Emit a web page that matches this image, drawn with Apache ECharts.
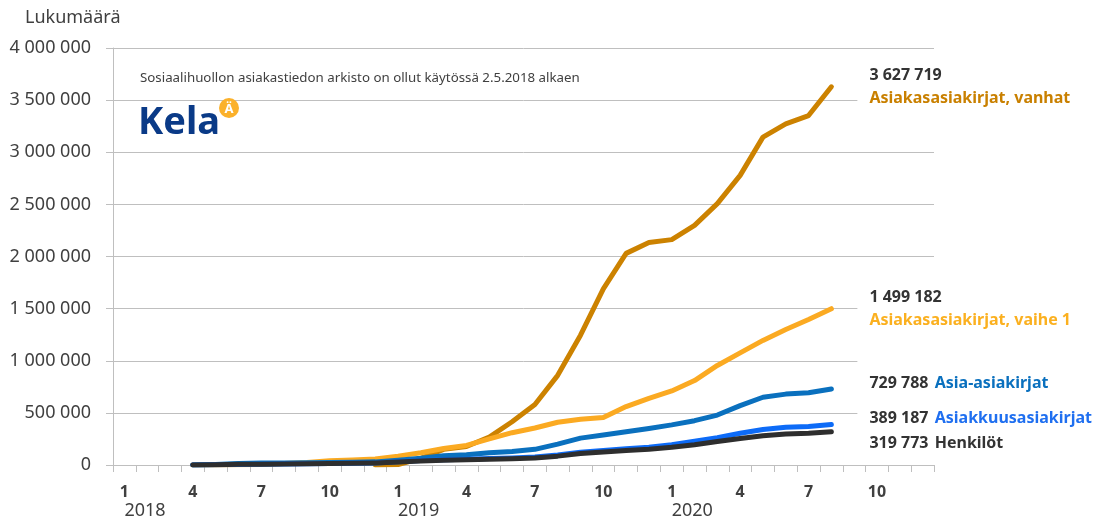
<!DOCTYPE html>
<html><head><meta charset="utf-8">
<script src="https://cdn.jsdelivr.net/npm/echarts@6/dist/echarts.min.js"></script>
<style>html,body{margin:0;padding:0;background:#fff}#c{width:1103px;height:520px}</style>
</head><body><div id="c"></div>
<script>
// ---- data ----
const years = ['2018', '2019', '2020'];
const months = ['1','2','3','4','5','6','7','8','9','10','11','12'];
const startMonth = '2018-4'; // first data month (values below run monthly 2018-04 ... 2020-08)
const yTicks = [0, 500000, 1000000, 1500000, 2000000, 2500000, 3000000, 3500000, 4000000];

const seriesNames = ['Asiakasasiakirjat, vanhat', 'Asiakasasiakirjat, vaihe 1', 'Asia-asiakirjat', 'Asiakkuusasiakirjat', 'Henkilöt'];
const vanhat = [null, null, null, null, null, null, null, null, 0, 5000, 65000, 150000, 178000, 268000, 415000, 580000, 860000, 1245000, 1690000, 2030000, 2135000, 2162000, 2299000, 2507000, 2778000, 3145000, 3273000, 3352000, 3627719];
const vaihe1 = [0, 0, 2000, 5000, 15000, 25000, 40000, 48000, 58000, 85000, 118000, 158000, 188000, 250000, 310000, 355000, 410000, 438000, 455000, 560000, 640000, 710000, 810000, 955000, 1075000, 1195000, 1300000, 1396000, 1499182];
const asia = [0, 5000, 15000, 20000, 20000, 22000, 24000, 26000, 30000, 45000, 64000, 88000, 98000, 118000, 130000, 150000, 200000, 258000, 287000, 318000, 350000, 385000, 425000, 479000, 570000, 650000, 680000, 693000, 729788];
const asiakkuus = [0, 2000, 5000, 8000, 10000, 12000, 14000, 16000, 20000, 32000, 42000, 50000, 56000, 62000, 68000, 76000, 95000, 122000, 138000, 155000, 170000, 195000, 228000, 262000, 305000, 340000, 362000, 370000, 389187];
const henkilot = [0, 3000, 6000, 8000, 10000, 12000, 14000, 16000, 20000, 28000, 38000, 45000, 50000, 55000, 60000, 68000, 85000, 110000, 125000, 140000, 152000, 170000, 195000, 225000, 255000, 280000, 297000, 305000, 319773];

// ---- build ----
const cats = [];
years.forEach(y => months.forEach(m => cats.push(y + '-' + m)));
const start = cats.indexOf(startMonth);
function pad(arr) {
  const out = new Array(cats.length).fill(null);
  arr.forEach((v, i) => { out[start + i] = v; });
  return out;
}
function fmt(v) { return String(Math.round(v)).replace(/\B(?=(\d{3})+(?!\d))/g, ' '); }

const FONT = 'Noto Sans';
const colors = ['#CC8200', '#FBAA22', '#0A70BE', '#0D6BF7', '#2E2E2E'];
const labelColors = ['#C98000', '#FBB01F', '#0A70BE', '#1F6FF0', '#333333'];
const values = [vanhat, vaihe1, asia, asiakkuus, henkilot];
const twoLine = [true, true, false, false, false];
const labelOffsets = [[0, 0], [0, 0], [0, -12], [0, -6], [0, 12]];
const labelPads = [[4, 6, 4, 12], [4, 6, 4, 12], [16, 6, 2, 12], [4, 6, 4, 12], [4, 6, 4, 12]];

const series = values.map((arr, k) => ({
  name: seriesNames[k],
  type: 'line',
  data: pad(arr),
  showSymbol: false,
  symbol: 'none',
  connectNulls: false,
  silent: true,
  z: 2 + k,
  lineStyle: { width: 5, color: colors[k], cap: 'round', join: 'round' },
  itemStyle: { color: colors[k] },
  emphasis: { disabled: true },
  endLabel: {
    show: true,
    distance: 26,
    offset: labelOffsets[k],
    backgroundColor: '#ffffff',
    padding: labelPads[k],
    formatter: p => '{v|' + fmt(p.value) + '}' + (twoLine[k] ? '\n' : '  ') + '{n' + k + '|' + seriesNames[k] + '}',
    rich: Object.assign({
      v: { fontFamily: FONT, fontSize: 16, fontWeight: 'bold', color: '#333333', lineHeight: 23 }
    }, { ['n' + k]: { fontFamily: FONT, fontSize: 16, fontWeight: 'bold', color: labelColors[k], lineHeight: 23 } })
  }
}));

const chart = echarts.init(document.getElementById('c'), null, { renderer: 'canvas' });
chart.setOption({
  animation: false,
  backgroundColor: '#ffffff',
  textStyle: { fontFamily: FONT },
  title: {
    text: 'Lukumäärä', left: 20, top: 4,
    textStyle: { fontFamily: FONT, fontSize: 18, fontWeight: 'normal', color: '#404040' }
  },
  grid: { left: 113, right: 169, top: 48, bottom: 55, containLabel: false },
  xAxis: [{
    type: 'category',
    data: cats,
    boundaryGap: true,
    axisLine: { lineStyle: { color: '#BFBFBF', width: 1 } },
    axisTick: { show: true, interval: 0, length: 7, lineStyle: { color: '#BFBFBF' } },
    axisLabel: {
      interval: i => i % 3 === 0,
      formatter: v => v.split('-')[1],
      fontFamily: FONT, fontSize: 16, fontWeight: 'bold', color: '#404040', margin: 19
    },
    splitLine: { show: false }
  }, {
    type: 'category',
    data: cats,
    position: 'bottom',
    boundaryGap: true,
    axisLine: { show: false },
    axisTick: { show: false },
    axisLabel: {
      interval: 0,
      formatter: v => v.split('-')[1] === '1' ? v.split('-')[0] : '',
      align: 'left',
      fontFamily: FONT, fontSize: 18, color: '#404040', margin: 37
    },
    splitLine: { show: false }
  }],
  yAxis: {
    type: 'value',
    min: yTicks[0], max: yTicks[yTicks.length - 1], interval: yTicks[1] - yTicks[0],
    axisLine: { show: true, lineStyle: { color: '#BFBFBF' } },
    axisTick: { show: true, length: 7, lineStyle: { color: '#BFBFBF' } },
    axisLabel: { formatter: v => fmt(v), fontFamily: FONT, fontSize: 18, color: '#404040', margin: 22 },
    splitLine: { show: true, lineStyle: { color: '#BFBFBF', width: 1 } }
  },
  graphic: [
    { type: 'text', left: 140, top: 72, z: 1, style: { text: 'Sosiaalihuollon asiakastiedon arkisto on ollut käytössä 2.5.2018 alkaen', fontFamily: FONT, fontSize: 13.3, fill: '#404040' } },
    { type: 'text', left: 138, top: 104, z: 1, style: { text: 'Kela', fontFamily: FONT, fontSize: 38, fontWeight: 'bold', fill: '#0A3A87' } },
    { type: 'circle', shape: { cx: 229, cy: 108, r: 10 }, z: 1, style: { fill: '#FBB12B' } },
    { type: 'text', x: 229, y: 109, z: 2, style: { text: 'Ä', fontFamily: FONT, fontSize: 13, fontWeight: 'bold', fill: '#ffffff', align: 'center', verticalAlign: 'middle' } }
  ],
  series: series
});
</script>
</body></html>
